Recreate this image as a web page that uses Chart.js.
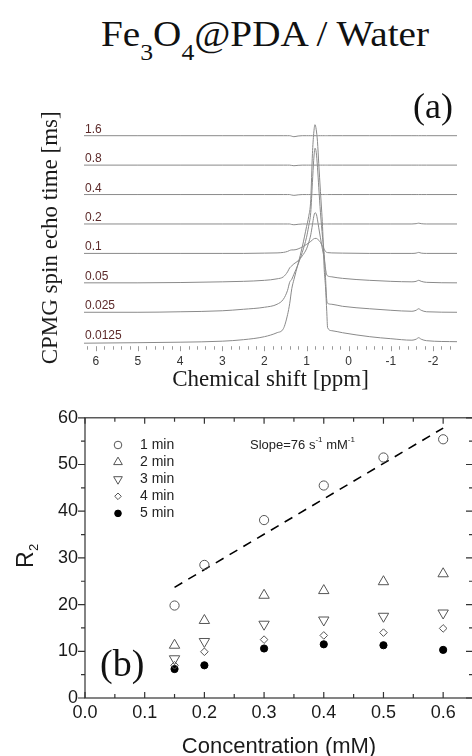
<!DOCTYPE html>
<html><head><meta charset="utf-8">
<script src="https://cdn.jsdelivr.net/npm/chart.js@4.4.0/dist/chart.umd.min.js"></script>
<style>
html,body{margin:0;padding:0;width:472px;height:756px;overflow:hidden;background:#fff;}
#title{position:absolute;left:0;top:17px;width:530px;text-align:center;font-family:'Liberation Serif','Times New Roman',serif;font-size:35px;line-height:35px;color:#111;white-space:nowrap;transform-origin:265px 0;transform:scaleX(1.12);}
#title span{font-size:23px;vertical-align:-14px;}
#topWrap{position:absolute;left:0;top:0;width:472px;height:400px;}
#botWrap{position:absolute;left:0;top:400px;width:480px;height:362px;}
canvas{display:block;}
</style></head>
<body>
<div id="title">Fe<span>3</span>O<span>4</span>@PDA / Water</div>
<div id="topWrap"><canvas id="top" width="472" height="400"></canvas></div>
<div id="botWrap"><canvas id="bot" width="480" height="362"></canvas></div>
<script>
// ---------- Panel (a): CPMG spectra ----------
const traceLabels = ['0.0125','0.025','0.05','0.1','0.2','0.4','0.8','1.6'];
const ppm = [6.28,5,4,3,2.5,2,1.7,1.55,1.45,1.4,1.35,1.3,1.2,1.1,1.0,0.95,0.9,0.86,0.83,0.8,0.77,0.74,0.71,0.67,0.62,0.58,0.55,0.52,0.5,0.4,0.15,-0.5,-1,-1.5,-1.6,-1.66,-1.72,-1.85,-2.57];
const spec_0_0125 = [-1.5,-1,-0.5,0.5,2,5,9,13,27,38,53,62,78,95,115,125,142,188,208,217,212,200,178,150,115,72,55,30,14,11,9,5,3,1.5,2.5,4,2.5,1,0];
const spec_0_025  = [0,0,0.5,1.5,3,5,8,13,22,30,33,38,48,60,75,86,100,130,152,164,160,145,125,100,75,58,35,12,9,8,6,3.5,2,1,2,3.5,2,0.5,0];
const spec_0_05   = [0,0,0.3,1,1.5,2.5,4,6,11,15,17,19,22,27,34,40,48,58,66,70,69,63,55,45,33,24,14,8,7,6,4.5,2.5,1.5,1,1.5,2.5,1.5,0.5,0];
const spec_0_1    = [0,0,0,0,0,0.3,0.5,1,2,3,3.5,3.5,4.5,6.5,9,10.5,12,13.5,14.5,15,15,14.5,13,11,7,4,2,1,0.8,0.5,0.3,0,0,0,0.3,1,0.3,0,0];
const spec_0_2    = [0,0,0,0,0,0,0,0,0,0,-0.5,-0.8,-0.3,0,0,0,0,0,0,0,0,0,0,0,0,0,0,0,0,0,0,0,0,0,0.3,0.8,0.3,0,0];
const spec_0_4    = [0,0,0,0,0,0,0,0,0,0,-0.5,-0.8,-0.3,0,0,0,0,0,0,0,0,0,0,0,0,0,0,0,0,0,0,0,0,0,0,0,0,0,0];
const spec_0_8    = [0,0,0,0,0,0,0,0,0,0,-0.3,-0.6,-0.2,0,0,0,0,0,0,0,0,0,0,0,0,0,0,0,0,0,0,0,0,0,0,0,0,0,0];
const spec_1_6    = [0,0,0,0,0,0,0,0,0,0,-0.5,-1,-0.3,0,0,0,0,0,0,0,0,0,0,0,0,0,0,0,0,0,0,0,0,0,0,0,0,0,0];
const ppmTicks = [6,5,4,3,2,1,0,-1,-2];

const spectra = [spec_0_0125,spec_0_025,spec_0_05,spec_0_1,spec_0_2,spec_0_4,spec_0_8,spec_1_6];
const traceStep = 29.43;

const SANS = '"Liberation Sans", Arial, sans-serif';
const SERIF = '"Liberation Serif", "Times New Roman", serif';

const topPlugin = {
  id: 'topDeco',
  afterDraw(chart) {
    const ctx = chart.ctx, xs = chart.scales.x, ys = chart.scales.y, ca = chart.chartArea;
    ctx.save();
    ctx.font = '12px ' + SANS;
    ctx.fillStyle = '#5c2a2a';
    ctx.textAlign = 'left';
    ctx.textBaseline = 'alphabetic';
    traceLabels.forEach((lab, i) => {
      ctx.fillText(lab, 85, ys.getPixelForValue(i * traceStep) - 3);
    });
    ctx.strokeStyle = '#9a9a9a';
    ctx.lineWidth = 1;
    for (let k = -12; k <= 31; k++) {
      const v = k * 0.2;
      if (v < xs.min || v > xs.max) continue;
      const x = Math.round(xs.getPixelForValue(v)) + 0.5;
      const major = (k % 5 === 0);
      ctx.beginPath();
      ctx.moveTo(x, ca.bottom - 0.5);
      ctx.lineTo(x, ca.bottom + (major ? 4.5 : 3));
      ctx.stroke();
    }
    ctx.font = '36px ' + SERIF;
    ctx.fillStyle = '#111';
    ctx.fillText('(a)', 413, 118);
    ctx.restore();
  }
};

new Chart(document.getElementById('top'), {
  type: 'line',
  data: {
    datasets: traceLabels.map((lab, i) => ({
      label: lab,
      data: ppm.map((x, j) => ({x: x, y: spectra[i][j] + i * traceStep})),
      borderColor: '#8a8a8a',
      borderWidth: 1,
      pointRadius: 0,
      cubicInterpolationMode: 'monotone',
      clip: false,
      fill: false
    }))
  },
  options: {
    responsive: false,
    animation: false,
    devicePixelRatio: 1,
    layout: {padding: {top: 129, left: 0, right: 15, bottom: 0}},
    plugins: {legend: {display: false}, tooltip: {enabled: false}},
    scales: {
      x: {
        type: 'linear', reverse: true, min: -2.57, max: 6.28,
        grid: {display: false, drawTicks: false}, border: {display: false},
        afterBuildTicks: (s) => { s.ticks = ppmTicks.map(v => ({value: v})); },
        ticks: {font: {family: SANS, size: 12}, color: '#333', padding: 8,
                callback: (v) => String(v)},
        title: {display: true, text: 'Chemical shift [ppm]', color: '#1a1a1a',
                font: {family: SERIF, size: 23}, padding: {top: 0, bottom: 6.2}},
        afterFit: (s) => { s.height = 53.3; }
      },
      y: {
        type: 'linear', min: -5, max: 212.7,
        grid: {display: false, drawTicks: false}, border: {display: false},
        ticks: {display: false},
        title: {display: true, text: 'CPMG spin echo time [ms]', color: '#1a1a1a',
                font: {family: SERIF, size: 23}, padding: {top: 36.7, bottom: 0}},
        afterFit: (s) => { s.width = 84; }
      }
    }
  },
  plugins: [topPlugin]
});

// ---------- Panel (b): R2 vs concentration ----------
const seriesNames = ['1 min','2 min','3 min','4 min','5 min'];
const conc = [0.15,0.2,0.3,0.4,0.5,0.6];
const r2_1min = [19.8,28.5,38.1,45.5,51.5,55.4];
const r2_2min = [11.3,16.6,22.0,23.0,24.9,26.6];
const r2_3min = [8.4,12.1,15.8,16.7,17.5,18.2];
const r2_4min = [7.0,9.9,12.5,13.4,14.0,14.9];
const r2_5min = [6.2,7.0,10.6,11.5,11.3,10.3];
const fitConc = [0.15,0.6];
const fitR2 = [23.7,57.8];
const concTicks = [0,0.1,0.2,0.3,0.4,0.5,0.6];
const r2Ticks = [0,10,20,30,40,50,60];

const r2Series = [r2_1min,r2_2min,r2_3min,r2_4min,r2_5min];
const markerStyles = [
  {pointStyle: 'circle', rotation: 0, radius: 4.6, fill: 'rgba(0,0,0,0)', stroke: '#555', lr: 3.8},
  {pointStyle: 'triangle', rotation: 0, radius: 6, fill: 'rgba(0,0,0,0)', stroke: '#555', lr: 5},
  {pointStyle: 'triangle', rotation: 180, radius: 6, fill: 'rgba(0,0,0,0)', stroke: '#555', lr: 5},
  {pointStyle: 'rectRot', rotation: 0, radius: 3.8, fill: 'rgba(0,0,0,0)', stroke: '#555', lr: 3.3},
  {pointStyle: 'circle', rotation: 0, radius: 3.6, fill: '#000', stroke: '#000', lr: 3.3}
];

const botPlugin = {
  id: 'botDeco',
  afterDraw(chart) {
    const ctx = chart.ctx, xs = chart.scales.x, ys = chart.scales.y, ca = chart.chartArea;
    ctx.save();
    ctx.strokeStyle = '#333';
    ctx.lineWidth = 1.2;
    ctx.strokeRect(ca.left, ca.top, ca.right - ca.left, ca.bottom - ca.top);
    for (let v = 0; v <= 60; v += 5) {
      const y = ys.getPixelForValue(v);
      const len = (v % 10 === 0) ? 7 : 4;
      ctx.beginPath();
      ctx.moveTo(ca.left, y); ctx.lineTo(ca.left - len, y);
      ctx.moveTo(ca.right, y); ctx.lineTo(ca.right - len, y);
      ctx.stroke();
    }
    for (let k = 0; k <= 13; k++) {
      const x = xs.getPixelForValue(k * 0.05);
      const len = (k % 2 === 0) ? 6 : 4;
      ctx.beginPath();
      ctx.moveTo(x, ca.bottom); ctx.lineTo(x, ca.bottom - len);
      ctx.moveTo(x, ca.top); ctx.lineTo(x, ca.top + len);
      ctx.stroke();
    }
    ctx.font = '14px ' + SANS;
    ctx.textAlign = 'left';
    ctx.textBaseline = 'middle';
    seriesNames.forEach((name, i) => {
      const m = markerStyles[i];
      const y = 45 + i * 17.1;
      ctx.fillStyle = m.fill;
      ctx.strokeStyle = m.stroke;
      ctx.lineWidth = 1;
      Chart.helpers.drawPoint(ctx, {pointStyle: m.pointStyle, rotation: m.rotation, radius: m.lr, borderWidth: 1}, 118, y);
      ctx.fillStyle = '#222';
      ctx.fillText(name, 140, y);
    });
    let x = 250;
    const yS = 45;
    ctx.fillStyle = '#222';
    ctx.font = '13px ' + SANS;
    ctx.fillText('Slope=76 s', x, yS); x += ctx.measureText('Slope=76 s').width;
    ctx.font = '8px ' + SANS;
    ctx.fillText('-1', x, yS - 5); x += ctx.measureText('-1').width;
    ctx.font = '13px ' + SANS;
    ctx.fillText(' mM', x, yS); x += ctx.measureText(' mM').width;
    ctx.font = '8px ' + SANS;
    ctx.fillText('-1', x, yS - 5);
    ctx.textBaseline = 'alphabetic';
    ctx.font = '38px ' + SERIF;
    ctx.fillStyle = '#111';
    ctx.fillText('(b)', 100, 276);
    ctx.save();
    ctx.translate(33, 168);
    ctx.rotate(-Math.PI / 2);
    ctx.fillStyle = '#1a1a1a';
    ctx.font = '23px ' + SANS;
    ctx.fillText('R', 0, 0);
    const rw = ctx.measureText('R').width;
    ctx.font = '13px ' + SANS;
    ctx.fillText('2', rw + 0.5, 5);
    ctx.restore();
    ctx.restore();
  }
};

new Chart(document.getElementById('bot'), {
  type: 'scatter',
  data: {
    datasets: seriesNames.map((name, i) => ({
      label: name,
      data: conc.map((c, j) => ({x: c, y: r2Series[i][j]})),
      pointStyle: markerStyles[i].pointStyle,
      rotation: markerStyles[i].rotation,
      pointRadius: markerStyles[i].radius,
      backgroundColor: markerStyles[i].fill,
      borderColor: markerStyles[i].stroke,
      borderWidth: 1,
      showLine: false,
      clip: false
    })).concat([{
      type: 'line',
      label: 'Linear fit',
      data: fitConc.map((c, j) => ({x: c, y: fitR2[j]})),
      borderColor: '#000',
      borderWidth: 1.6,
      borderDash: [9, 7],
      pointRadius: 0,
      fill: false
    }])
  },
  options: {
    responsive: false,
    animation: false,
    devicePixelRatio: 1,
    layout: {padding: {top: 14.3, left: 0, right: 7, bottom: 0}},
    plugins: {legend: {display: false}, tooltip: {enabled: false}},
    scales: {
      x: {
        type: 'linear', min: 0, max: 0.65,
        grid: {display: false, drawTicks: false}, border: {display: false},
        afterBuildTicks: (s) => { s.ticks = concTicks.map(v => ({value: v})); },
        ticks: {font: {family: SANS, size: 18}, color: '#1a1a1a', padding: 4,
                callback: (v) => Number(v).toFixed(1)},
        title: {display: true, text: 'Concentration (mM)', color: '#1a1a1a',
                font: {family: SANS, size: 22}, padding: {top: 0, bottom: 2}},
        afterFit: (s) => { s.height = 64; }
      },
      y: {
        type: 'linear', min: 0, max: 60,
        grid: {display: false, drawTicks: false}, border: {display: false},
        afterBuildTicks: (s) => { s.ticks = r2Ticks.map(v => ({value: v})); },
        ticks: {font: {family: SANS, size: 18}, color: '#1a1a1a', padding: 7},
        title: {display: false},
        afterFit: (s) => { s.width = 85; }
      }
    }
  },
  plugins: [botPlugin]
});
</script>
</body></html>
